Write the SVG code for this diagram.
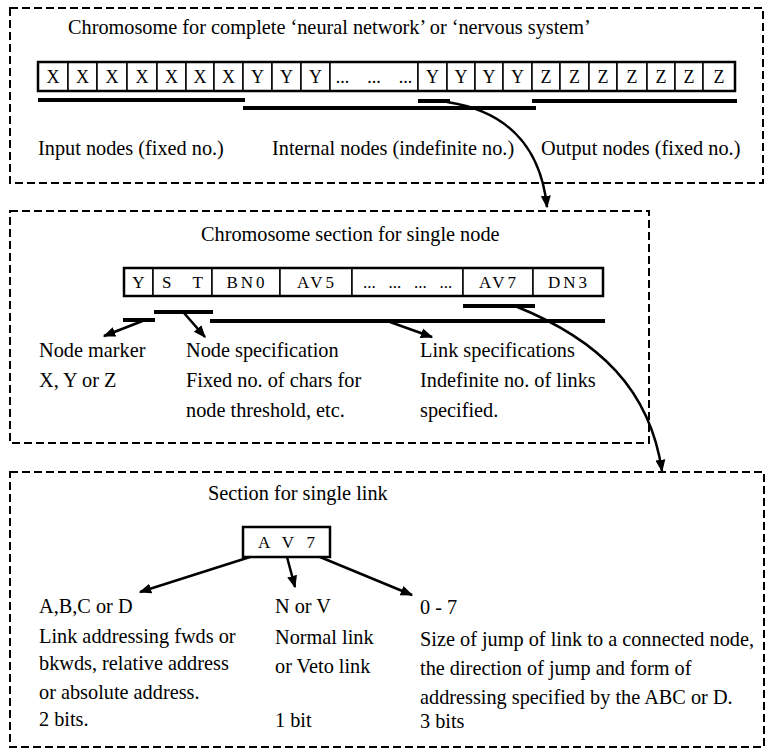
<svg xmlns="http://www.w3.org/2000/svg" width="767" height="752" viewBox="0 0 767 752">
<style>
text{font-family:"Liberation Serif","Times New Roman",serif;fill:#000;font-size:20.3px;white-space:pre}
.cell{font-size:18px;text-anchor:middle}
.cell2{font-size:17px;text-anchor:middle}
.frame{fill:none;stroke:#000;stroke-width:2;stroke-dasharray:8 4}
.c{fill:#fff;stroke:#000;stroke-width:1.5}
.outer{fill:none;stroke:#000;stroke-width:2.5}
.ul{stroke:#000;stroke-width:4;fill:none}
.con{stroke:#000;stroke-width:2.5;fill:none}
</style>
<defs>
<marker id="ah" viewBox="0 0 10 10" refX="9" refY="5" markerWidth="5" markerHeight="5" orient="auto" markerUnits="strokeWidth">
<path d="M0,1 L10,5 L0,9 Z" fill="#000"/>
</marker>
</defs>
<rect width="767" height="752" fill="#fff"/>

<g id="box-network">
<rect class="frame" x="10" y="8" width="753" height="175"/>
<text x="68" y="34">Chromosome for complete ‘neural network’ or ‘nervous system’</text>
<g id="network-row">
<rect class="c" x="38" y="62" width="30" height="29"/><text class="cell" x="53" y="83">X</text>
<rect class="c" x="68" y="62" width="29" height="29"/><text class="cell" x="82.5" y="83">X</text>
<rect class="c" x="97" y="62" width="30" height="29"/><text class="cell" x="112" y="83">X</text>
<rect class="c" x="127" y="62" width="30" height="29"/><text class="cell" x="142" y="83">X</text>
<rect class="c" x="157" y="62" width="29" height="29"/><text class="cell" x="171.5" y="83">X</text>
<rect class="c" x="186" y="62" width="28" height="29"/><text class="cell" x="200" y="83">X</text>
<rect class="c" x="214" y="62" width="29" height="29"/><text class="cell" x="228.5" y="83">X</text>
<rect class="c" x="243" y="62" width="29" height="29"/><text class="cell" x="257.5" y="83">Y</text>
<rect class="c" x="272" y="62" width="29" height="29"/><text class="cell" x="286.5" y="83">Y</text>
<rect class="c" x="301" y="62" width="29" height="29"/><text class="cell" x="315.5" y="83">Y</text>
<rect class="c" x="330" y="62" width="88" height="29"/><text class="cell" x="374" y="83" xml:space="preserve">...    ...    ...</text>
<rect class="c" x="418" y="62" width="29" height="29"/><text class="cell" x="432.5" y="83">Y</text>
<rect class="c" x="447" y="62" width="28" height="29"/><text class="cell" x="461" y="83">Y</text>
<rect class="c" x="475" y="62" width="28" height="29"/><text class="cell" x="489" y="83">Y</text>
<rect class="c" x="503" y="62" width="29" height="29"/><text class="cell" x="517.5" y="83">Y</text>
<rect class="c" x="532" y="62" width="28" height="29"/><text class="cell" x="546" y="83">Z</text>
<rect class="c" x="560" y="62" width="29" height="29"/><text class="cell" x="574.5" y="83">Z</text>
<rect class="c" x="589" y="62" width="28" height="29"/><text class="cell" x="603" y="83">Z</text>
<rect class="c" x="617" y="62" width="30" height="29"/><text class="cell" x="632" y="83">Z</text>
<rect class="c" x="647" y="62" width="28" height="29"/><text class="cell" x="661" y="83">Z</text>
<rect class="c" x="675" y="62" width="28" height="29"/><text class="cell" x="689" y="83">Z</text>
<rect class="c" x="703" y="62" width="32" height="29"/><text class="cell" x="719" y="83">Z</text>
<rect class="outer" x="38" y="62" width="697" height="29"/>
</g>
<line class="ul" x1="38" y1="100" x2="245" y2="100"/>
<line class="ul" x1="243" y1="108" x2="536" y2="108"/>
<line class="ul" x1="532" y1="101" x2="737" y2="101"/>
<line class="ul" x1="418" y1="101" x2="450" y2="101"/>
<text x="38" y="155">Input nodes (fixed no.)</text>
<text x="272" y="155">Internal nodes (indefinite no.)</text>
<text x="541" y="155">Output nodes (fixed no.)</text>
</g>

<g id="box-node">
<rect class="frame" x="10" y="211" width="639" height="232"/>
<text x="201" y="241">Chromosome section for single node</text>
<g id="node-row">
<rect class="c" x="124" y="268" width="29" height="28"/><text class="cell2" x="138.5" y="288">Y</text>
<rect class="c" x="153" y="268" width="59" height="28"/><text class="cell2" x="182.5" y="288" xml:space="preserve">S     T</text>
<rect class="c" x="212" y="268" width="68" height="28"/><text class="cell2" x="247" y="288" letter-spacing="3">BN0</text>
<rect class="c" x="280" y="268" width="72" height="28"/><text class="cell2" x="317" y="288" letter-spacing="3">AV5</text>
<rect class="c" x="352" y="268" width="111" height="28"/><text class="cell2" x="407.5" y="288" xml:space="preserve">...   ...   ...   ...</text>
<rect class="c" x="463" y="268" width="70" height="28"/><text class="cell2" x="499" y="288" letter-spacing="3">AV7</text>
<rect class="c" x="533" y="268" width="70" height="28"/><text class="cell2" x="569" y="288" letter-spacing="3">DN3</text>
<rect class="outer" x="124" y="268" width="479" height="28"/>
</g>
<line class="ul" x1="123" y1="320" x2="155" y2="320"/>
<line class="ul" x1="154" y1="312" x2="213" y2="312"/>
<line class="ul" x1="210" y1="321" x2="605" y2="321"/>
<line class="ul" x1="463" y1="306" x2="535" y2="306"/>
<text x="39" y="357">Node marker</text>
<text x="39" y="387">X, Y or Z</text>
<text x="186" y="357">Node specification</text>
<text x="186" y="387">Fixed no. of chars for</text>
<text x="186" y="417">node threshold, etc.</text>
<text x="420" y="357">Link specifications</text>
<text x="420" y="387">Indefinite no. of links</text>
<text x="420" y="417">specified.</text>
</g>

<g id="box-link">
<rect class="frame" x="10" y="472" width="754" height="275"/>
<text x="208" y="500">Section for single link</text>
<g id="link-cell">
<rect class="outer" x="243" y="527" width="87" height="30" fill="#fff"/>
<text class="cell2" x="286.5" y="548" xml:space="preserve">A   V   7</text>
</g>
<text x="39" y="613">A,B,C or D</text>
<text x="39" y="643">Link addressing fwds or</text>
<text x="39" y="670">bkwds, relative address</text>
<text x="39" y="699">or absolute address.</text>
<text x="39" y="726">2 bits.</text>
<text x="275" y="613">N or V</text>
<text x="275" y="644">Normal link</text>
<text x="275" y="673">or Veto link</text>
<text x="275" y="727">1 bit</text>
<text x="420" y="614">0 - 7</text>
<text x="420" y="646">Size of jump of link to a connected node,</text>
<text x="420" y="675">the direction of jump and form of</text>
<text x="420" y="704">addressing specified by the ABC or D.</text>
<text x="420" y="728">3 bits</text>
</g>

<g id="connectors">
<path class="con" d="M447,102 C500,110 540,140 547,207" marker-end="url(#ah)"/>
<path class="con" d="M515,306 C600,340 650,390 662,471" marker-end="url(#ah)"/>
<line class="con" x1="145" y1="320" x2="104" y2="336" marker-end="url(#ah)"/>
<line class="con" x1="184" y1="313" x2="205" y2="337" marker-end="url(#ah)"/>
<line class="con" x1="390" y1="322" x2="432" y2="337" marker-end="url(#ah)"/>
<line class="con" x1="250" y1="557" x2="140" y2="592" marker-end="url(#ah)"/>
<line class="con" x1="287" y1="557" x2="295" y2="587" marker-end="url(#ah)"/>
<line class="con" x1="320" y1="557" x2="412" y2="595" marker-end="url(#ah)"/>
</g>
</svg>
